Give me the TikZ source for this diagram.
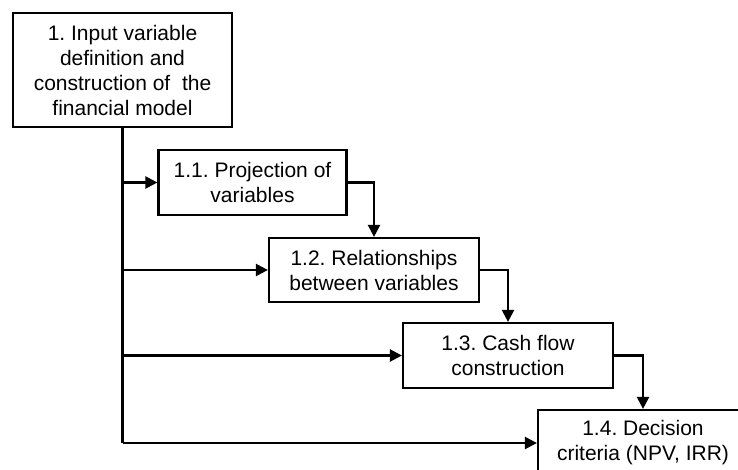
\documentclass[tikz,border=0pt]{standalone}
\usepackage{fontspec}
\setmainfont{Liberation Sans}
\usetikzlibrary{arrows.meta}
\frenchspacing
\begin{document}
\begin{tikzpicture}[x=1pt,y=-1pt,
  box/.style={draw, line width=2.2pt, align=center, inner sep=0pt,
    font=\fontsize{21}{25}\selectfont},
  conn/.style={line width=2.3pt, -{Triangle[length=12pt,width=12pt]}},
  trunk/.style={line width=3pt}]
\useasboundingbox (0,0) rectangle (738,470);
\clip (0,0) rectangle (738,470);
\fill[white] (0,0) rectangle (738,470);
\node[box, minimum width=219pt, minimum height=114pt] (b1) at (122.5,70)
  {1. Input variable\\definition and\\construction of~ the\\financial model};
\node[box, minimum width=188pt, minimum height=65pt] (b2) at (252.5,182.5)
  {1.1. Projection of\\variables};
\node[box, minimum width=210pt, minimum height=64pt] (b3) at (374,270)
  {1.2. Relationships\\between variables};
\node[box, minimum width=210pt, minimum height=65pt] (b4) at (508,355.5)
  {1.3. Cash flow\\construction};
\node[box, minimum width=210pt, minimum height=66pt] (b5) at (643,443)
  {1.4. Decision\\criteria (NPV, IRR)};
\coordinate (corner) at (b1.south |- b5.west);
\draw[trunk] (b1.south) -- (corner);
\draw[conn] (corner) -- (b5.west);
\draw[conn] (b1.south |- b2.west) -- (b2.west);
\draw[conn] (b1.south |- b3.west) -- (b3.west);
\draw[conn] (b1.south |- b4.west) -- (b4.west);
\draw[conn] (b2.east) -| (b3.north);
\draw[conn] (b3.east) -| (b4.north);
\draw[conn] (b4.east) -| (b5.north);
\end{tikzpicture}
\end{document}
